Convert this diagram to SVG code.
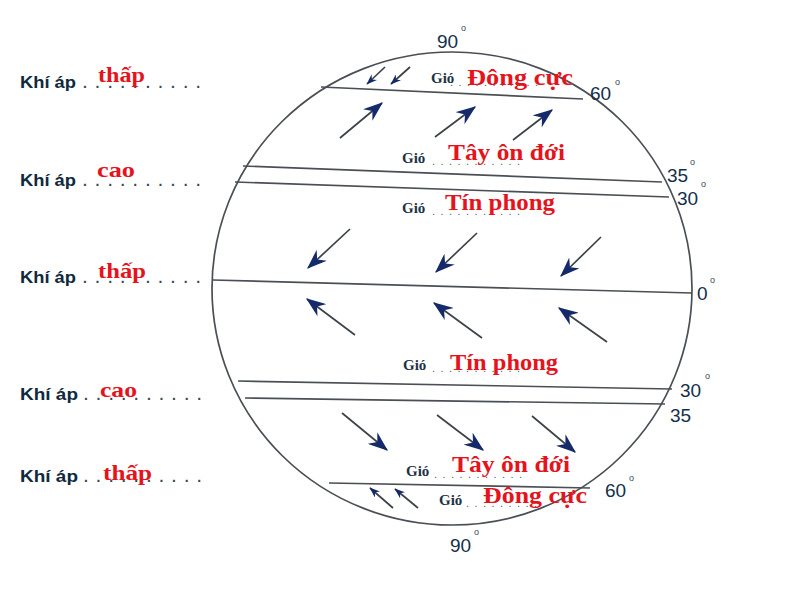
<svg xmlns="http://www.w3.org/2000/svg" width="800" height="596" viewBox="0 0 800 596">
<defs>
<style>
.bg{fill:#ffffff}
.ln{stroke:#4a4f55;stroke-width:1.7;fill:none}
.ar{stroke:#3c4248;stroke-width:1.7;fill:none}
.kh{font-family:"Liberation Sans",Arial,sans-serif;font-weight:bold;font-size:17px;fill:#0f2a40}
.dt{font-family:"Liberation Sans",Arial,sans-serif;font-weight:bold;font-size:14px;fill:#3a4652;letter-spacing:2.4px}
.rd{font-family:"Liberation Serif","Times New Roman",serif;font-weight:bold;fill:#e5141c}
.gi{font-family:"Liberation Serif","Times New Roman",serif;font-weight:bold;font-size:15px;fill:#1c3346}
.gd{font-family:"Liberation Sans",Arial,sans-serif;font-size:11px;fill:#56616c;letter-spacing:1.2px}
.dg{font-family:"Liberation Sans",Arial,sans-serif;font-size:19px;fill:#13304a}
.ds{font-family:"Liberation Sans",Arial,sans-serif;font-size:9px;fill:#3a4a58}
</style>
<marker id="ah" markerUnits="userSpaceOnUse" viewBox="0 0 16 12" refX="15" refY="6" markerWidth="20" markerHeight="15" orient="auto">
<path d="M0,0 L16,6 L0,12 L5,6 z" fill="#142a6a"/>
</marker>
<marker id="ahs" markerUnits="userSpaceOnUse" viewBox="0 0 16 12" refX="15" refY="6" markerWidth="11" markerHeight="8" orient="auto">
<path d="M0,0 L16,6 L0,12 L5,6 z" fill="#142a6a"/>
</marker>
</defs>
<rect class="bg" x="0" y="0" width="800" height="596"/>

<g id="globe">
<ellipse class="ln" cx="452" cy="288.5" rx="240" ry="236.5"/>
<line class="ln" x1="321" y1="87" x2="583" y2="99"/>
<line class="ln" x1="243" y1="166" x2="662" y2="182"/>
<line class="ln" x1="235" y1="182" x2="669" y2="197"/>
<line class="ln" x1="213" y1="280" x2="692" y2="293"/>
<line class="ln" x1="238" y1="381" x2="672" y2="389"/>
<line class="ln" x1="245" y1="398" x2="665" y2="404"/>
<line class="ln" x1="329" y1="483" x2="590" y2="488"/>
</g>

<g id="connectors">
<line class="ar" x1="385" y1="67" x2="367" y2="84" marker-end="url(#ahs)"/>
<line class="ar" x1="410" y1="67" x2="391" y2="84" marker-end="url(#ahs)"/>
<line class="ar" x1="340" y1="138" x2="382" y2="103" marker-end="url(#ah)"/>
<line class="ar" x1="435" y1="137" x2="475" y2="107" marker-end="url(#ah)"/>
<line class="ar" x1="513" y1="140" x2="552" y2="110" marker-end="url(#ah)"/>
<line class="ar" x1="350" y1="229" x2="308" y2="268" marker-end="url(#ah)"/>
<line class="ar" x1="477" y1="233" x2="436" y2="272" marker-end="url(#ah)"/>
<line class="ar" x1="601" y1="237" x2="561" y2="276" marker-end="url(#ah)"/>
<line class="ar" x1="355" y1="335" x2="307" y2="299" marker-end="url(#ah)"/>
<line class="ar" x1="482" y1="338" x2="434" y2="303" marker-end="url(#ah)"/>
<line class="ar" x1="607" y1="342" x2="559" y2="308" marker-end="url(#ah)"/>
<line class="ar" x1="342" y1="413" x2="387" y2="450" marker-end="url(#ah)"/>
<line class="ar" x1="437" y1="415" x2="483" y2="450" marker-end="url(#ah)"/>
<line class="ar" x1="532" y1="416" x2="575" y2="452" marker-end="url(#ah)"/>
<line class="ar" x1="393" y1="508" x2="370" y2="488" marker-end="url(#ahs)"/>
<line class="ar" x1="418" y1="508" x2="395" y2="489" marker-end="url(#ahs)"/>
</g>

<g id="degrees">
<text class="dg" x="437" y="48">90</text><text class="ds" x="461" y="31">o</text>
<text class="dg" x="590" y="100">60</text><text class="ds" x="615" y="85">o</text>
<text class="dg" x="667" y="182">35</text><text class="ds" x="690" y="165">o</text>
<text class="dg" x="677" y="205">30</text><text class="ds" x="701" y="187">o</text>
<text class="dg" x="697" y="300">0</text><text class="ds" x="710" y="283">o</text>
<text class="dg" x="680" y="397">30</text><text class="ds" x="705" y="379">o</text>
<text class="dg" x="670" y="422">35</text>
<text class="dg" x="605" y="497">60</text><text class="ds" x="629" y="481">o</text>
<text class="dg" x="450" y="552">90</text><text class="ds" x="474" y="535">o</text>
</g>

<g id="pressure-1">
<text class="kh" x="20" y="88" textLength="56" lengthAdjust="spacingAndGlyphs">Khí áp</text>
<text class="dt" x="83" y="88">. . . . . . . . . .</text>
<text class="rd" x="98" y="82" font-size="21" textLength="47" lengthAdjust="spacingAndGlyphs">thấp</text>
</g>
<g id="pressure-2">
<text class="kh" x="20" y="186" textLength="56" lengthAdjust="spacingAndGlyphs">Khí áp</text>
<text class="dt" x="83" y="186">. . . . . . . . . .</text>
<text class="rd" x="97" y="177" font-size="21" textLength="38" lengthAdjust="spacingAndGlyphs">cao</text>
</g>
<g id="pressure-3">
<text class="kh" x="20" y="283" textLength="56" lengthAdjust="spacingAndGlyphs">Khí áp</text>
<text class="dt" x="83" y="283">. . . . . . . . . .</text>
<text class="rd" x="98" y="278" font-size="21" textLength="48" lengthAdjust="spacingAndGlyphs">thấp</text>
</g>
<g id="pressure-4">
<text class="kh" x="20" y="400" textLength="58" lengthAdjust="spacingAndGlyphs">Khí áp</text>
<text class="dt" x="84" y="400">. . . . . . . . . .</text>
<text class="rd" x="100" y="397" font-size="21" textLength="37" lengthAdjust="spacingAndGlyphs">cao</text>
</g>
<g id="pressure-5">
<text class="kh" x="20" y="482" textLength="58" lengthAdjust="spacingAndGlyphs">Khí áp</text>
<text class="dt" x="84" y="482">. . . . . . . . . .</text>
<text class="rd" x="103" y="480" font-size="21" textLength="49" lengthAdjust="spacingAndGlyphs">thấp</text>
</g>

<g id="wind-1">
<text class="gi" x="431" y="83" font-size="12">Gió</text>
<text class="gd" x="450" y="86">. . . . . . . . . . .</text>
<text class="rd" x="467" y="85" font-size="23" textLength="106" lengthAdjust="spacingAndGlyphs">Đông cực</text>
</g>
<g id="wind-2">
<text class="gi" x="402" y="163">Gió</text>
<text class="gd" x="432" y="165">. . . . . . . . . . .</text>
<text class="rd" x="448" y="160" font-size="23" textLength="117" lengthAdjust="spacingAndGlyphs">Tây ôn đới</text>
</g>
<g id="wind-3">
<text class="gi" x="402" y="213">Gió</text>
<text class="gd" x="432" y="215">. . . . . . . . . . .</text>
<text class="rd" x="445" y="210" font-size="23" textLength="110" lengthAdjust="spacingAndGlyphs">Tín phong</text>
</g>
<g id="wind-4">
<text class="gi" x="403" y="370">Gió</text>
<text class="gd" x="432" y="372">. . . . . . . . . . .</text>
<text class="rd" x="450" y="370" font-size="23" textLength="108" lengthAdjust="spacingAndGlyphs">Tín phong</text>
</g>
<g id="wind-5">
<text class="gi" x="406" y="476">Gió</text>
<text class="gd" x="434" y="478">. . . . . . . . . . .</text>
<text class="rd" x="452" y="472" font-size="23" textLength="118" lengthAdjust="spacingAndGlyphs">Tây ôn đới</text>
</g>
<g id="wind-6">
<text class="gi" x="439" y="505">Gió</text>
<text class="gd" x="466" y="507">. . . . . . . . . .</text>
<text class="rd" x="483" y="503" font-size="23" textLength="104" lengthAdjust="spacingAndGlyphs">Đông cực</text>
</g>
</svg>
